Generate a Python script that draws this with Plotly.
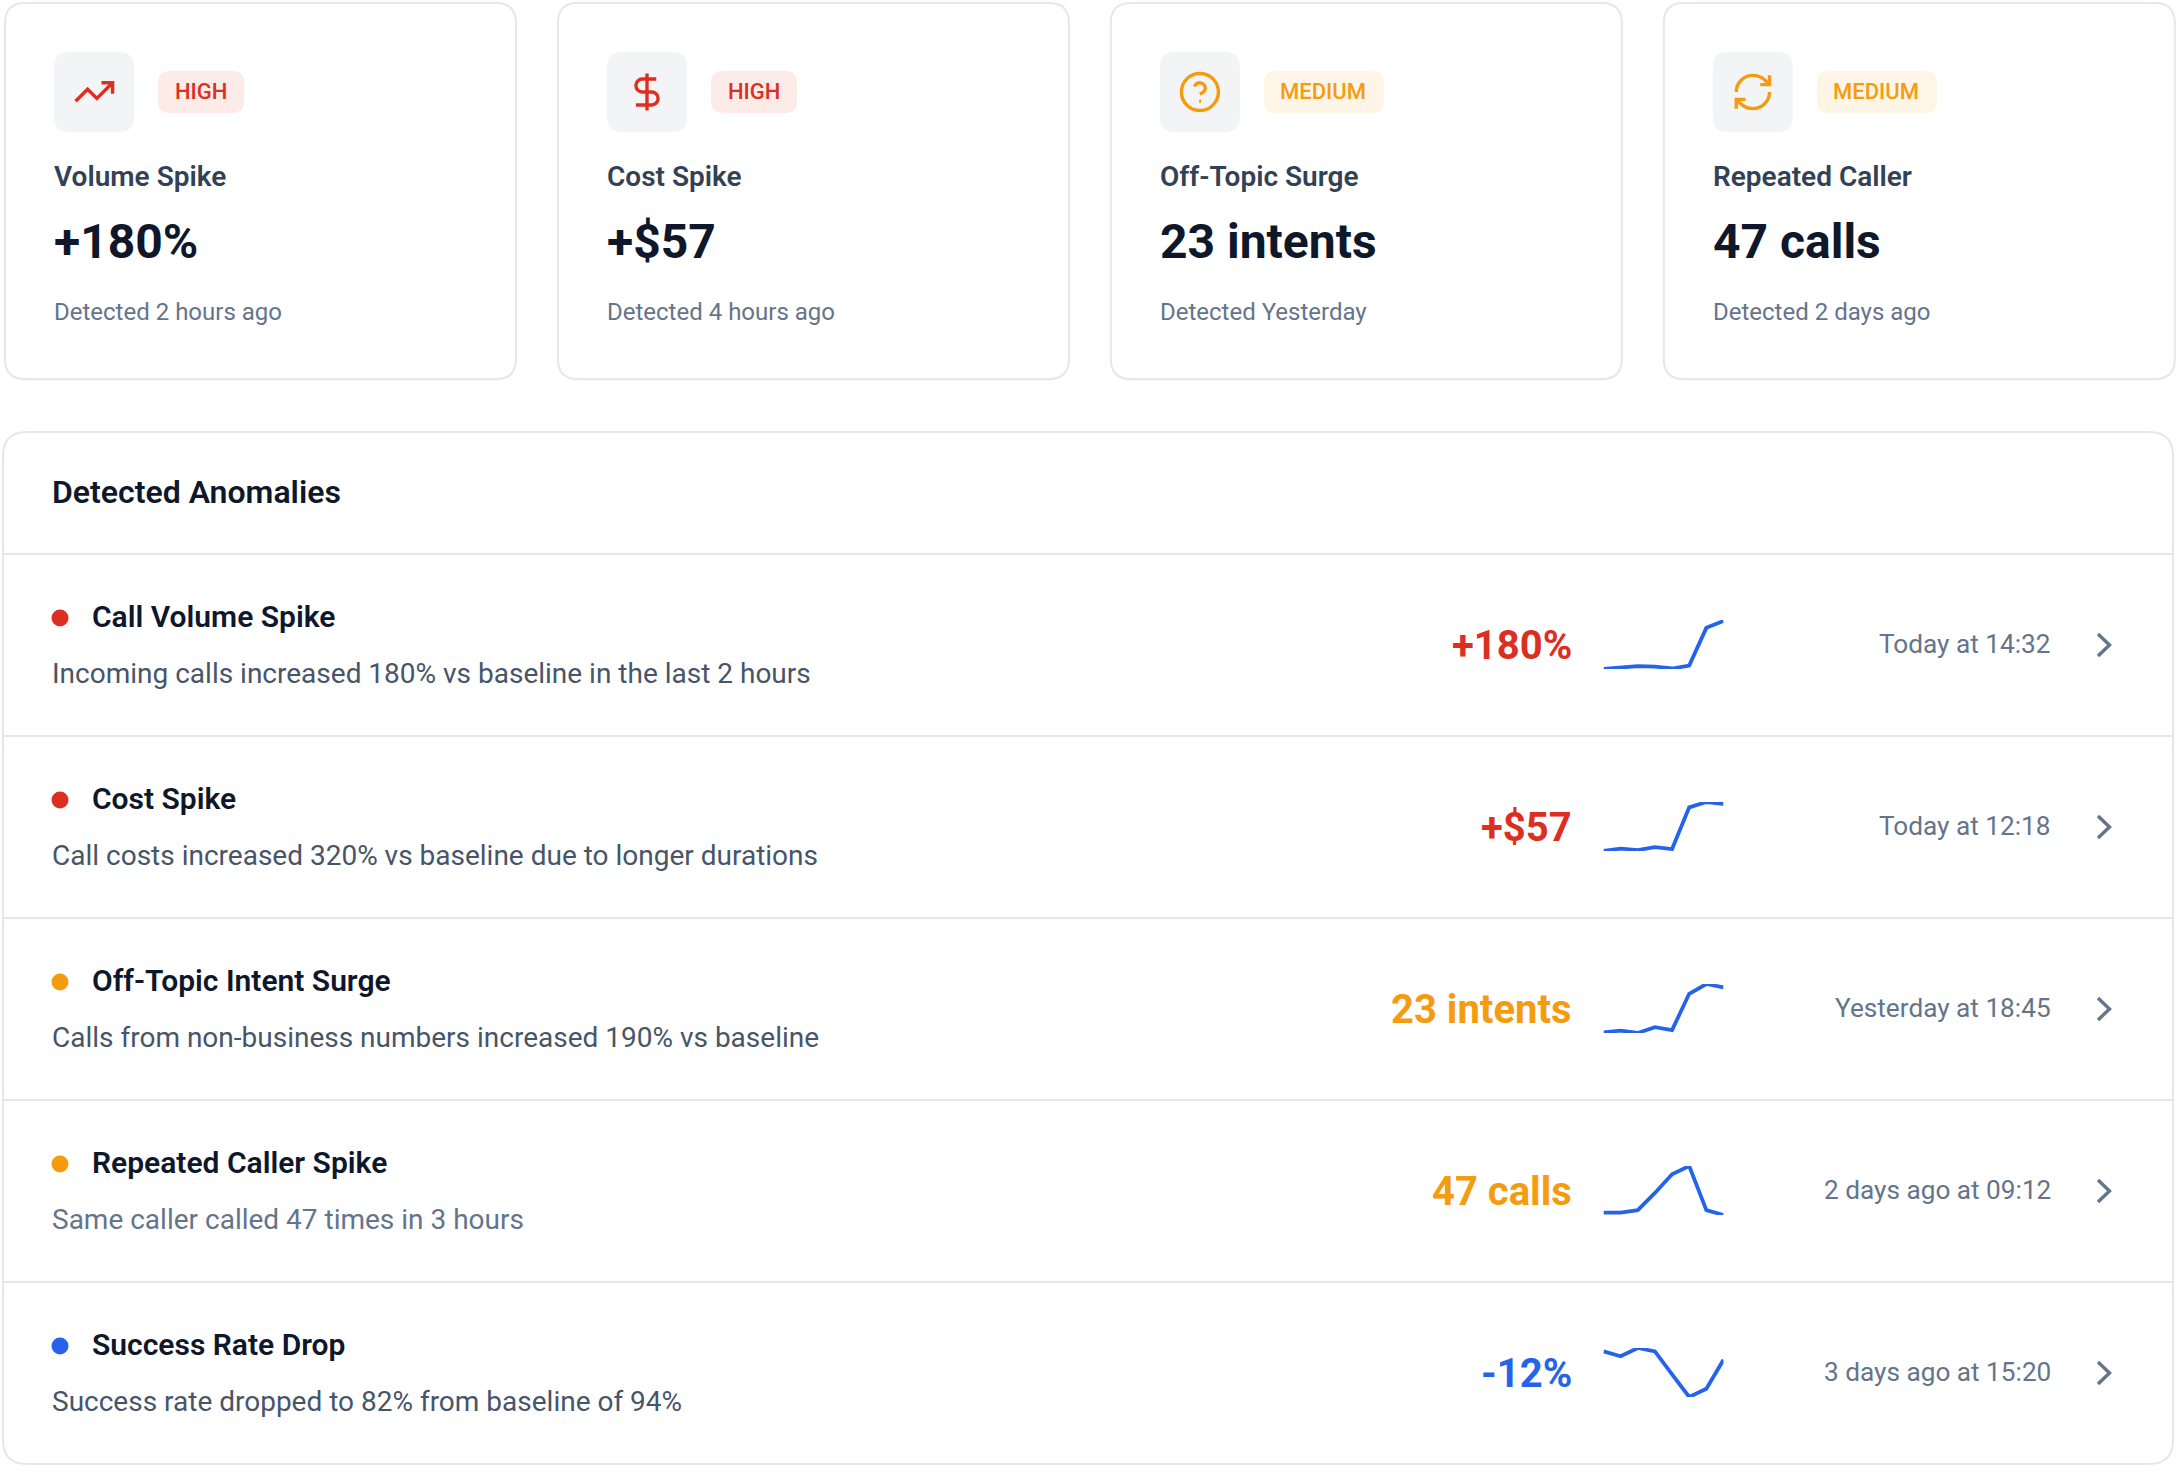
import re
import plotly.graph_objects as go

W, H = 2180, 1466

# summary cards
card_levels = ['HIGH', 'HIGH', 'MEDIUM', 'MEDIUM']
card_titles = ['Volume Spike', 'Cost Spike', 'Off-Topic Surge', 'Repeated Caller']
card_values = ['+180%', '+$57', '23 intents', '47 calls']
card_detected = ['Detected 2 hours ago', 'Detected 4 hours ago',
                 'Detected Yesterday', 'Detected 2 days ago']

# anomaly rows
row_titles = ['Call Volume Spike', 'Cost Spike', 'Off-Topic Intent Surge',
              'Repeated Caller Spike', 'Success Rate Drop']
row_descs = ['Incoming calls increased 180% vs baseline in the last 2 hours',
             'Call costs increased 320% vs baseline due to longer durations',
             'Calls from non-business numbers increased 190% vs baseline',
             'Same caller called 47 times in 3 hours',
             'Success rate dropped to 82% from baseline of 94%']
row_values = ['+180%', '+$57', '23 intents', '47 calls', '-12%']
row_times = ['Today at 14:32', 'Today at 12:18', 'Yesterday at 18:45',
             '2 days ago at 09:12', '3 days ago at 15:20']
row_levels = ['HIGH', 'HIGH', 'MEDIUM', 'MEDIUM', 'LOW']

# sparklines on a 0-100 scale
spark_volume = [0, 3, 6, 5, 1, 7, 84, 98]
spark_cost = [0, 5, 2, 8, 4, 89, 100, 96]
spark_offtopic = [1, 5, 0, 12, 6, 80, 100, 93]
spark_caller = [5, 5, 10, 45, 83, 100, 10, 0]
spark_success = [93, 83, 100, 93, 46, 0, 17, 76]
sparks = [spark_volume, spark_cost, spark_offtopic, spark_caller, spark_success]

RED = '#DC2F22'
ORANGE = '#F59B0F'
BLUE = '#2563EB'
BORDER = '#E6E7EC'
level_color = {'HIGH': RED, 'MEDIUM': ORANGE, 'LOW': BLUE}
level_bg = {'HIGH': '#FCEBE7', 'MEDIUM': '#FEF5E7'}
desc_colors = ['#475569', '#475569', '#475569', '#64748B', '#475569']
FONT = 'Roboto, sans-serif'

# lucide icons on their 24 unit grid
icons = [
    ['M22 7 L13.5 15.5 L8.5 10.5 L2 17', 'M16 7 L22 7 L22 13'],
    ['M17 5 L9.5 5 C7.57 5 6 6.57 6 8.5 C6 10.43 7.57 12 9.5 12 L14.5 12 '
     'C16.43 12 18 13.57 18 15.5 C18 17.43 16.43 19 14.5 19 L6 19', 'M12 2 L12 22'],
    ['M22 12 C22 17.52 17.52 22 12 22 C6.48 22 2 17.52 2 12 C2 6.48 6.48 2 12 2 '
     'C17.52 2 22 6.48 22 12',
     'M9.09 9 C9.6 7.5 11 6.8 12.3 7.05 C13.8 7.3 14.92 8.5 14.92 10 C14.92 12 11.92 13 11.92 13',
     'M11.6 17 L12.6 17'],
    ['M3 12 C3 7.03 7.03 3 12 3 C14.5 3 16.9 3.98 18.74 5.74 L21 8', 'M21 3 L21 8 L16 8',
     'M21 12 C21 16.97 16.97 21 12 21 C9.5 21 7.1 20.02 5.26 18.26 L3 16', 'M8 16 L3 16 L3 21'],
]


def round_rect(x0, y0, x1, y1, r):
    return (f'M{x0+r},{y0} L{x1-r},{y0} Q{x1},{y0} {x1},{y0+r} L{x1},{y1-r} Q{x1},{y1} {x1-r},{y1} '
            f'L{x0+r},{y1} Q{x0},{y1} {x0},{y1-r} L{x0},{y0+r} Q{x0},{y0} {x0+r},{y0} Z')


def icon_path(d, cx, cy, s=1.85):
    def repl(m):
        return f'{cx + (float(m.group(1)) - 12) * s:.2f},{cy + (float(m.group(2)) - 12) * s:.2f}'
    return re.sub(r'(-?[\d.]+) (-?[\d.]+)', repl, d)


shapes = []
annotations = []


def box(x0, y0, x1, y1, r, fill='white', line=None, width=0):
    shapes.append(dict(type='path', path=round_rect(x0, y0, x1, y1, r), xref='x', yref='y',
                       fillcolor=fill, line=dict(color=line or fill, width=width), layer='below'))


def label(x, y, text, size, color, weight=400, anchor='left'):
    annotations.append(dict(x=x, y=y, xref='x', yref='y', text=text, showarrow=False,
                            xanchor=anchor, yanchor='middle', borderpad=0,
                            font=dict(family=FONT, size=size, color=color, weight=weight)))


card_left = [4.6, 557.5, 1110.4, 1663.4]
for i, left in enumerate(card_left):
    color = level_color[card_levels[i]]
    box(left + 0.4, 5, left + 511.4, 381, 22, fill='#F6F6F8')
    box(left + 0.4, 3, left + 511.4, 379, 20, line=BORDER, width=2)
    box(left + 49.5, 52, left + 129.5, 132, 15, fill='#F3F4F6')
    badge_w = 86 if card_levels[i] == 'HIGH' else 120
    box(left + 153.5, 71, left + 153.5 + badge_w, 113, 12, fill=level_bg[card_levels[i]])
    label(left + 153 + badge_w / 2, 91.5, card_levels[i], 22, color, 500, 'center')
    for d in icons[i]:
        shapes.append(dict(type='path', path=icon_path(d, left + 89.5, 92), xref='x', yref='y',
                           line=dict(color=color, width=3.4), layer='above'))
    label(left + 48.5, 176.3, card_titles[i], 28, '#334155', 600)
    label(left + 48.5, 241, card_values[i], 48, '#0F172A', 700)
    label(left + 48.5, 311.7, card_detected[i], 24, '#64748B')

# main panel
box(3, 432, 2173, 1464, 24, line=BORDER, width=2)
label(50.6, 492, 'Detected Anomalies', 32, '#0F172A', 600)

row_tops = [554, 736, 918, 1100, 1282]
for i, top in enumerate(row_tops):
    shapes.append(dict(type='line', x0=3, x1=2173, y0=top, y1=top, xref='x', yref='y',
                       line=dict(color=BORDER, width=2), layer='below'))
    label(90.6, top + 62.7, row_titles[i], 30, '#0F172A', 600)
    label(50.6, top + 119.7, row_descs[i], 28, desc_colors[i])
    label(1572.5, top + 91, row_values[i], 40, level_color[row_levels[i]], 700, 'right')
    label(2052.4, top + 90, row_times[i], 26.2, '#64748B', 400, 'right')
    shapes.append(dict(type='path', xref='x', yref='y', layer='above',
                       path=f'M2098,{top+80} L2109.5,{top+91} L2098,{top+102}',
                       line=dict(color='#64748B', width=3.4)))

fig = go.Figure()
# severity dots live on the page axes
fig.add_trace(go.Scatter(x=[60] * len(row_tops), y=[t + 64 for t in row_tops], mode='markers',
                         marker=dict(size=17, color=[level_color[l] for l in row_levels], line=dict(width=0)),
                         hoverinfo='skip', showlegend=False))

layout_axes = {}
blank = dict(visible=False, fixedrange=True)
for i, values in enumerate(sparks):
    n = i + 2
    fig.add_trace(go.Scatter(x=list(range(len(values))), y=values, mode='lines',
                             line=dict(color=BLUE, width=3.8), cliponaxis=False,
                             xaxis=f'x{n}', yaxis=f'y{n}', showlegend=False, hoverinfo='skip'))
    top = row_tops[i]
    layout_axes[f'xaxis{n}'] = dict(blank, domain=[1603.5 / W, 1723.5 / W], range=[0, 7], anchor=f'y{n}')
    layout_axes[f'yaxis{n}'] = dict(blank, domain=[1 - (top + 115) / H, 1 - (top + 66) / H],
                                    range=[0, 100], anchor=f'x{n}')

fig.update_layout(
    width=W, height=H,
    margin=dict(l=0, r=0, t=0, b=0),
    paper_bgcolor='white', plot_bgcolor='white',
    showlegend=False,
    xaxis=dict(blank, domain=[0, 1], range=[0, W]),
    yaxis=dict(blank, domain=[0, 1], range=[H, 0]),
    shapes=shapes, annotations=annotations,
    **layout_axes,
)

fig.write_html('out.html', config={'displayModeBar': False},
               post_script="document.body.style.margin='0';document.body.style.overflow='hidden';")
